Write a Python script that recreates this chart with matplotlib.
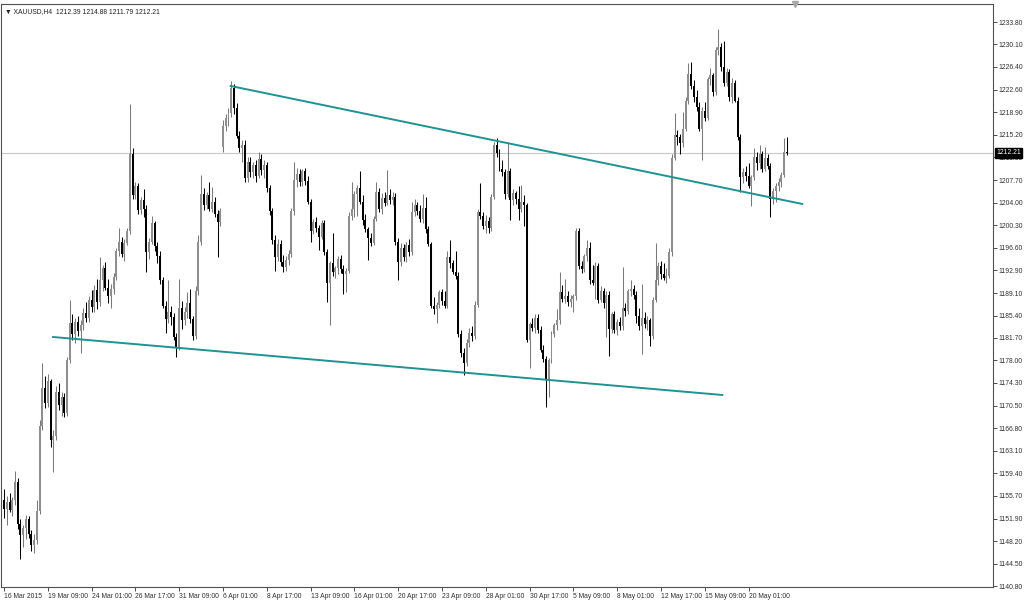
import matplotlib.pyplot as plt
import matplotlib.transforms as mtransforms
import numpy as np

# XAUUSD H4, 16 Mar - 21 May 2015

opens = np.array([
    1155.0, 1153.5, 1154.6, 1153.4, 1155.0, 1157.9, 1151.0, 1149.2, 1150.3, 1151.8,
    1149.4, 1147.6, 1148.4, 1153.2, 1167.2, 1173.4, 1171.0, 1174.6, 1164.8, 1165.6,
    1172.8, 1170.6, 1171.9, 1169.3, 1178.0, 1184.2, 1182.4, 1184.3, 1182.8, 1183.9,
    1185.9, 1185.0, 1187.9, 1186.8, 1189.6, 1187.6, 1191.2, 1193.2, 1190.0, 1188.6,
    1189.8, 1191.8, 1196.0, 1197.6, 1195.6, 1197.4, 1199.4, 1212.0, 1205.2, 1206.8,
    1202.8, 1204.4, 1203.0, 1195.8, 1197.6, 1200.6, 1196.8, 1195.2, 1191.2, 1187.0,
    1184.8, 1186.0, 1185.2, 1181.8, 1180.2, 1186.6, 1184.6, 1186.0, 1187.4, 1184.8,
    1182.0, 1189.4, 1197.6, 1205.4, 1203.6, 1205.2, 1203.0, 1204.2, 1202.2, 1200.8,
    1213.2, 1216.6, 1218.0, 1218.8, 1223.0, 1219.6, 1215.0, 1213.0, 1213.6, 1208.0,
    1210.8, 1209.0, 1210.2, 1208.4, 1211.2, 1209.4, 1210.2, 1206.4, 1202.6, 1197.8,
    1195.0, 1197.2, 1194.2, 1193.4, 1194.6, 1195.6, 1202.6, 1207.8, 1208.8, 1207.4,
    1209.2, 1207.6, 1204.2, 1199.4, 1200.8, 1199.8, 1198.4, 1200.6, 1195.8, 1190.8,
    1194.0, 1192.6, 1193.2, 1194.8, 1193.0, 1192.2, 1192.8, 1201.8, 1203.0, 1205.4,
    1206.4, 1204.2, 1201.2, 1199.6, 1198.2, 1197.4, 1201.4, 1205.8, 1203.0, 1204.8,
    1204.0, 1205.2, 1204.4, 1205.0, 1197.6, 1194.2, 1196.6, 1195.0, 1197.0, 1195.8,
    1202.4, 1203.6, 1202.6, 1201.4, 1203.2, 1199.6, 1197.2, 1187.0, 1186.4, 1187.2,
    1189.2, 1187.8, 1187.0, 1195.0, 1194.0, 1192.6, 1192.0, 1182.4, 1179.2, 1177.6,
    1180.8, 1182.6, 1182.0, 1187.2, 1202.4, 1201.8, 1200.2, 1201.0, 1199.8, 1205.0,
    1213.6, 1212.2, 1209.6, 1209.0, 1205.4, 1209.2, 1204.4, 1205.6, 1204.6, 1203.0,
    1204.2, 1203.6, 1181.4, 1184.0, 1183.4, 1185.0, 1183.0, 1179.8, 1178.2, 1175.0,
    1178.0, 1182.4, 1183.8, 1184.6, 1189.2, 1188.2, 1188.6, 1187.6, 1188.2, 1188.6,
    1199.4, 1193.6, 1193.0, 1195.2, 1196.6, 1191.2, 1190.8, 1193.6, 1188.0, 1189.4,
    1187.4, 1188.8, 1183.2, 1185.6, 1183.0, 1184.4, 1183.6, 1186.6, 1186.2, 1189.4,
    1189.8, 1188.8, 1185.4, 1183.6, 1185.0, 1184.0, 1184.6, 1182.0, 1188.0, 1191.2,
    1193.6, 1192.2, 1191.6, 1192.0, 1195.8, 1211.4, 1215.2, 1214.8, 1213.8, 1216.2,
    1220.8, 1225.2, 1223.2, 1221.4, 1219.8, 1216.2, 1219.2, 1218.0, 1224.4, 1225.0,
    1222.2, 1229.2, 1229.6, 1226.4, 1223.8, 1225.6, 1221.4, 1223.8, 1220.8, 1214.8,
    1208.2, 1209.0, 1208.4, 1206.8, 1208.2, 1211.6, 1210.6, 1212.0, 1209.6, 1211.4,
    1210.0, 1204.6, 1206.0, 1206.8, 1207.4, 1208.6, 1212.39])

highs = np.array([
    1156.8, 1155.6, 1156.2, 1155.5, 1159.8, 1158.6, 1151.8, 1150.8, 1152.5, 1152.3,
    1150.0, 1149.4, 1155.0, 1168.2, 1177.6, 1175.4, 1175.8, 1175.0, 1166.6, 1173.8,
    1174.2, 1172.8, 1172.6, 1178.6, 1188.0, 1185.6, 1185.0, 1185.4, 1184.6, 1186.6,
    1187.6, 1188.6, 1189.6, 1190.4, 1191.4, 1195.0, 1193.8, 1194.2, 1191.4, 1190.6,
    1192.4, 1196.6, 1199.8, 1198.4, 1198.0, 1199.8, 1220.2, 1213.0, 1207.4, 1207.2,
    1205.0, 1206.2, 1203.6, 1198.2, 1201.8, 1201.0, 1197.6, 1196.0, 1191.8, 1187.8,
    1191.2, 1187.0, 1185.8, 1182.6, 1191.4, 1187.8, 1186.8, 1189.2, 1189.8, 1185.4,
    1190.2, 1198.6, 1208.6, 1206.4, 1205.8, 1207.4, 1206.6, 1205.0, 1202.8, 1203.2,
    1217.6, 1218.6, 1219.6, 1224.0, 1223.6, 1220.4, 1215.8, 1214.4, 1214.4, 1211.6,
    1211.6, 1210.8, 1211.0, 1212.4, 1212.0, 1211.0, 1210.8, 1207.0, 1203.2, 1198.6,
    1198.0, 1197.8, 1195.4, 1195.2, 1196.2, 1203.2, 1210.8, 1209.8, 1209.6, 1209.6,
    1209.8, 1208.4, 1204.6, 1201.4, 1201.6, 1200.4, 1201.2, 1201.2, 1196.4, 1194.4,
    1199.0, 1193.6, 1195.2, 1195.4, 1193.8, 1193.2, 1202.4, 1207.4, 1206.0, 1207.0,
    1209.2, 1205.2, 1202.2, 1200.0, 1199.0, 1201.8, 1207.4, 1206.4, 1205.6, 1205.8,
    1209.4, 1206.2, 1205.8, 1205.6, 1198.2, 1197.4, 1197.2, 1197.6, 1198.0, 1204.2,
    1204.6, 1204.2, 1203.6, 1205.4, 1205.0, 1200.2, 1197.6, 1188.4, 1187.6, 1189.6,
    1189.8, 1189.4, 1196.0, 1197.8, 1194.6, 1196.0, 1192.6, 1183.0, 1180.0, 1181.6,
    1183.4, 1183.6, 1187.8, 1203.0, 1207.2, 1202.4, 1202.0, 1201.6, 1205.4, 1214.0,
    1214.6, 1212.8, 1211.0, 1209.6, 1214.0, 1209.8, 1206.2, 1206.0, 1206.8, 1207.0,
    1205.2, 1204.0, 1184.4, 1185.0, 1185.6, 1185.6, 1183.6, 1180.6, 1178.8, 1178.4,
    1182.8, 1184.2, 1186.4, 1192.6, 1190.4, 1191.4, 1189.4, 1188.8, 1189.0, 1199.8,
    1199.8, 1194.4, 1195.6, 1197.8, 1197.6, 1193.8, 1194.2, 1194.0, 1190.2, 1190.0,
    1189.4, 1189.4, 1186.0, 1186.2, 1184.8, 1185.2, 1193.4, 1187.4, 1189.8, 1191.2,
    1190.4, 1189.4, 1186.6, 1190.6, 1186.0, 1185.4, 1185.0, 1188.4, 1197.4, 1194.2,
    1194.4, 1194.0, 1193.2, 1196.6, 1212.0, 1218.8, 1216.0, 1215.4, 1219.0, 1221.4,
    1227.0, 1227.2, 1224.2, 1222.6, 1220.6, 1219.8, 1220.6, 1224.8, 1226.2, 1225.4,
    1229.6, 1232.6, 1230.4, 1230.6, 1226.2, 1226.0, 1224.6, 1224.2, 1221.4, 1215.4,
    1209.8, 1210.0, 1210.6, 1208.6, 1213.0, 1212.4, 1213.6, 1212.6, 1213.2, 1212.0,
    1210.6, 1206.4, 1207.2, 1208.0, 1209.0, 1214.6, 1214.88])

lows = np.array([
    1152.0, 1150.8, 1153.0, 1152.4, 1154.2, 1150.2, 1145.2, 1147.2, 1148.6, 1148.8,
    1146.6, 1146.2, 1147.8, 1152.6, 1166.6, 1170.2, 1170.4, 1163.8, 1159.6, 1164.8,
    1169.8, 1168.8, 1168.6, 1168.9, 1177.5, 1181.4, 1180.8, 1182.0, 1179.2, 1183.0,
    1184.4, 1184.4, 1186.0, 1186.0, 1186.4, 1187.0, 1189.4, 1189.6, 1187.4, 1186.6,
    1189.0, 1191.2, 1195.2, 1195.0, 1194.4, 1197.0, 1198.8, 1204.6, 1204.6, 1202.2,
    1202.2, 1201.6, 1192.6, 1194.8, 1197.2, 1196.0, 1194.0, 1190.6, 1186.6, 1182.6,
    1184.2, 1183.8, 1181.4, 1178.6, 1179.8, 1183.2, 1183.8, 1185.0, 1184.2, 1181.4,
    1181.6, 1188.8, 1197.0, 1202.8, 1203.0, 1202.6, 1202.4, 1201.6, 1195.0, 1200.2,
    1212.4, 1215.8, 1216.6, 1218.2, 1218.6, 1214.6, 1212.4, 1210.8, 1207.4, 1207.4,
    1208.2, 1208.0, 1207.4, 1208.0, 1208.6, 1208.0, 1205.8, 1202.0, 1197.2, 1192.8,
    1194.4, 1193.6, 1192.6, 1192.8, 1193.8, 1195.0, 1202.0, 1206.6, 1206.8, 1206.8,
    1207.0, 1203.8, 1197.6, 1198.8, 1199.2, 1196.2, 1198.0, 1195.4, 1187.6, 1183.8,
    1192.0, 1191.6, 1192.2, 1192.4, 1189.0, 1189.2, 1192.4, 1201.2, 1201.6, 1201.8,
    1203.8, 1200.4, 1199.2, 1194.6, 1196.8, 1197.0, 1201.0, 1202.4, 1202.2, 1203.4,
    1203.6, 1203.8, 1203.6, 1197.0, 1191.2, 1193.6, 1194.4, 1194.2, 1195.2, 1195.4,
    1201.8, 1202.0, 1200.8, 1200.6, 1199.0, 1196.8, 1186.6, 1185.6, 1184.2, 1186.6,
    1187.2, 1186.6, 1186.6, 1193.2, 1192.2, 1191.4, 1181.8, 1178.6, 1175.6, 1177.0,
    1180.2, 1181.2, 1181.6, 1186.8, 1201.4, 1199.6, 1199.0, 1199.0, 1199.4, 1204.6,
    1211.6, 1209.2, 1208.4, 1204.6, 1205.0, 1201.2, 1203.6, 1203.8, 1201.2, 1202.4,
    1200.2, 1181.0, 1176.8, 1182.8, 1182.6, 1182.6, 1179.4, 1177.8, 1170.4, 1172.0,
    1177.6, 1181.8, 1183.0, 1184.0, 1187.6, 1187.4, 1187.0, 1186.8, 1186.0, 1188.0,
    1193.0, 1192.4, 1192.6, 1194.4, 1190.6, 1190.4, 1188.2, 1187.4, 1187.6, 1186.6,
    1181.8, 1178.8, 1182.6, 1182.6, 1182.2, 1183.0, 1183.0, 1185.4, 1185.6, 1188.6,
    1188.2, 1184.2, 1183.0, 1179.0, 1183.4, 1183.0, 1180.4, 1181.6, 1187.6, 1190.4,
    1191.4, 1191.2, 1190.8, 1191.6, 1195.2, 1211.0, 1213.6, 1212.0, 1213.2, 1215.8,
    1220.2, 1222.8, 1220.6, 1219.2, 1215.8, 1211.0, 1217.4, 1217.6, 1223.4, 1221.6,
    1221.8, 1228.4, 1225.8, 1223.2, 1223.2, 1220.8, 1220.4, 1220.6, 1214.4, 1205.8,
    1207.2, 1207.6, 1206.4, 1203.4, 1207.8, 1209.4, 1209.6, 1209.0, 1209.2, 1209.6,
    1201.6, 1203.8, 1204.2, 1206.0, 1206.6, 1208.2, 1211.79])

closes = np.array([
    1153.5, 1154.6, 1153.4, 1155.0, 1157.9, 1151.0, 1149.2, 1150.3, 1151.8, 1149.4,
    1147.6, 1148.4, 1153.2, 1167.2, 1173.4, 1171.0, 1174.6, 1164.8, 1165.6, 1172.8,
    1170.6, 1171.9, 1169.3, 1178.0, 1184.2, 1182.4, 1184.3, 1182.8, 1183.9, 1185.9,
    1185.0, 1187.9, 1186.8, 1189.6, 1187.6, 1191.2, 1193.2, 1190.0, 1188.6, 1189.8,
    1191.8, 1196.0, 1197.6, 1195.6, 1197.4, 1199.4, 1212.0, 1205.2, 1206.8, 1202.8,
    1204.4, 1203.0, 1195.8, 1197.6, 1200.6, 1196.8, 1195.2, 1191.2, 1187.0, 1184.8,
    1186.0, 1185.2, 1181.8, 1180.2, 1186.6, 1184.6, 1186.0, 1187.4, 1184.8, 1182.0,
    1189.4, 1197.6, 1205.4, 1203.6, 1205.2, 1203.0, 1204.2, 1202.2, 1200.8, 1202.6,
    1216.6, 1218.0, 1218.8, 1223.0, 1219.6, 1215.0, 1213.0, 1213.6, 1208.0, 1210.8,
    1209.0, 1210.2, 1208.4, 1211.2, 1209.4, 1210.2, 1206.4, 1202.6, 1197.8, 1195.0,
    1197.2, 1194.2, 1193.4, 1194.6, 1195.6, 1202.6, 1207.8, 1208.8, 1207.4, 1209.2,
    1207.6, 1204.2, 1199.4, 1200.8, 1199.8, 1198.4, 1200.6, 1195.8, 1190.8, 1194.0,
    1192.6, 1193.2, 1194.8, 1193.0, 1192.2, 1192.8, 1201.8, 1203.0, 1205.4, 1206.4,
    1204.2, 1201.2, 1199.6, 1198.2, 1197.4, 1201.4, 1205.8, 1203.0, 1204.8, 1204.0,
    1205.2, 1204.4, 1205.0, 1197.6, 1194.2, 1196.6, 1195.0, 1197.0, 1195.8, 1202.4,
    1203.6, 1202.6, 1201.4, 1203.2, 1199.6, 1197.2, 1187.0, 1186.4, 1187.2, 1189.2,
    1187.8, 1187.0, 1195.0, 1194.0, 1192.6, 1192.0, 1182.4, 1179.2, 1177.6, 1180.8,
    1182.6, 1182.0, 1187.2, 1202.4, 1201.8, 1200.2, 1201.0, 1199.8, 1205.0, 1213.6,
    1212.2, 1209.6, 1209.0, 1205.4, 1209.2, 1204.4, 1205.6, 1204.6, 1203.0, 1204.2,
    1203.6, 1181.4, 1184.0, 1183.4, 1185.0, 1183.0, 1179.8, 1178.2, 1175.0, 1178.0,
    1182.4, 1183.8, 1184.6, 1189.2, 1188.2, 1188.6, 1187.6, 1188.2, 1188.6, 1199.4,
    1193.6, 1193.0, 1195.2, 1196.6, 1191.2, 1190.8, 1193.6, 1188.0, 1189.4, 1187.4,
    1188.8, 1183.2, 1185.6, 1183.0, 1184.4, 1183.6, 1186.6, 1186.2, 1189.4, 1189.8,
    1188.8, 1185.4, 1183.6, 1185.0, 1184.0, 1184.6, 1182.0, 1188.0, 1191.2, 1193.6,
    1192.2, 1191.6, 1192.0, 1195.8, 1211.4, 1215.2, 1214.8, 1213.8, 1216.2, 1220.8,
    1225.2, 1223.2, 1221.4, 1219.8, 1216.2, 1219.2, 1218.0, 1224.4, 1225.0, 1222.2,
    1229.2, 1229.6, 1226.4, 1223.8, 1225.6, 1221.4, 1223.8, 1220.8, 1214.8, 1208.2,
    1209.0, 1208.4, 1206.8, 1208.2, 1211.6, 1210.6, 1212.0, 1209.6, 1211.4, 1210.0,
    1204.6, 1206.0, 1206.8, 1207.4, 1208.6, 1212.4, 1212.21])

# date labels every 16 bars
date_labels = ['16 Mar 2015', '19 Mar 09:00', '24 Mar 01:00', '26 Mar 17:00',
               '31 Mar 09:00', '6 Apr 01:00', '8 Apr 17:00', '13 Apr 09:00',
               '16 Apr 01:00', '20 Apr 17:00', '23 Apr 09:00', '28 Apr 01:00',
               '30 Apr 17:00', '5 May 09:00', '8 May 01:00', '12 May 17:00',
               '15 May 09:00', '20 May 01:00']
price_ticks = [1233.80, 1230.10, 1226.40, 1222.60, 1218.90, 1215.20, 1211.50,
               1207.70, 1204.00, 1200.30, 1196.60, 1192.90, 1189.10, 1185.40,
               1181.70, 1178.00, 1174.30, 1170.50, 1166.80, 1163.10, 1159.40,
               1155.70, 1151.90, 1148.20, 1144.50, 1140.80]

# trend lines (bar index, price)
upper_line_idx = [82.8, 291.6]
upper_line_price = [1223.25, 1203.8]
lower_line_idx = [17.9, 262.4]
lower_line_price = [1181.86, 1172.3]

plt.rcParams['font.family'] = ['Liberation Sans', 'DejaVu Sans']
fs = 4.9

fig = plt.figure(figsize=(10.24, 6.02), dpi=100)
ax = fig.add_axes([0.001, 15 / 602, 992 / 1024, 583 / 602])

x = np.arange(len(closes))
up = closes >= opens
dn = ~up

ax.axhline(closes[-1], color='#c8c8c8', lw=0.8, zorder=1)

ax.vlines(x[up], lows[up], highs[up], color='#7a7a7a', lw=0.75, zorder=2)
ax.vlines(x[dn], lows[dn], highs[dn], color='#000000', lw=0.75, zorder=2)
ax.bar(x[up], np.maximum(closes[up] - opens[up], 0.15), bottom=opens[up],
       width=0.72, color='#8e8e8e', linewidth=0, zorder=3)
ax.bar(x[dn], np.maximum(opens[dn] - closes[dn], 0.15), bottom=closes[dn],
       width=0.72, color='#000000', linewidth=0, zorder=3)

ax.plot(upper_line_idx, upper_line_price, color='#1f9292', lw=1.4, zorder=4)
ax.plot(lower_line_idx, lower_line_price, color='#1f9292', lw=1.4, zorder=4)

ax.set_xlim(-1.1, 361.3)
ax.set_ylim(1140.64, 1236.77)

ax.yaxis.tick_right()
ax.set_yticks(price_ticks, [f'{v:.2f}' for v in price_ticks])
ax.set_xticks(np.arange(len(date_labels)) * 16, date_labels, ha='left')
ax.tick_params(axis='both', direction='out', length=3, width=0.6,
               labelsize=fs, colors='#303030', pad=1.2)
for s in ax.spines.values():
    s.set_color('#505050')
    s.set_linewidth(0.8)

# last price box
trans = mtransforms.blended_transform_factory(ax.transAxes, ax.transData)
ax.text(1.003, closes[-1], f'{closes[-1]:.2f}', transform=trans, ha='left',
        va='center', fontsize=fs, color='white', zorder=10, clip_on=False,
        bbox=dict(boxstyle='square,pad=0.2', fc='black', ec='black'))

header = '\u25bc XAUUSD,H4  %.2f %.2f %.2f %.2f' % (opens[-1], highs[-1], lows[-1], closes[-1])
ax.text(0.004, 0.993, header, transform=ax.transAxes, ha='left', va='top',
        fontsize=fs, color='#202020')

# chart shift marker
ax.plot([289], [1236.77], marker='v', color='#a8a8a8', ms=5, clip_on=False, zorder=5)

fig.savefig('out.png', dpi=100)
